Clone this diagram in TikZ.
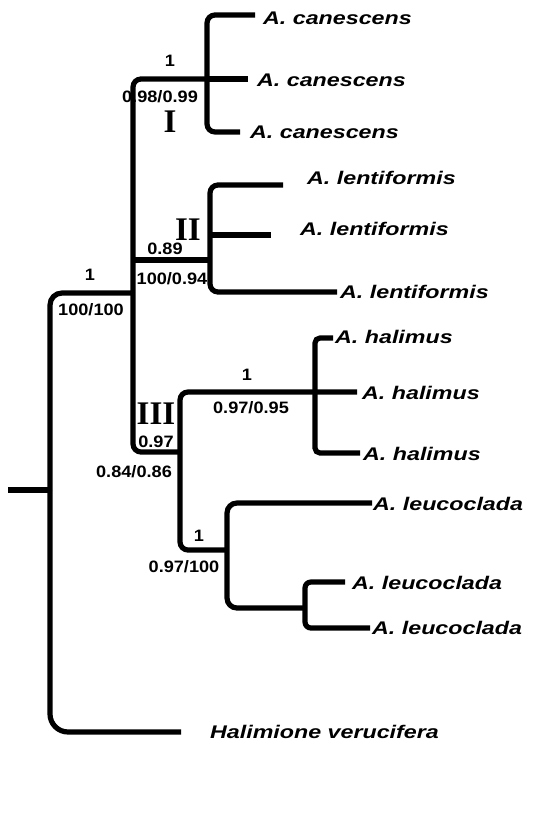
\documentclass[tikz,border=0pt]{standalone}
\usepackage{fontspec}
\setmainfont{Liberation Sans}
\newfontfamily\taxfont[FakeStretch=1.27]{Liberation Sans}
\newfontfamily\numfont[FakeStretch=1.1]{Liberation Sans}
\newfontfamily\romfont{Liberation Serif}
\begin{document}
\begin{tikzpicture}[x=1pt,y=-1pt,
  branch/.style={line width=5.2pt, rounded corners=8pt, line cap=butt},
  tax/.style={font=\taxfont\bfseries\itshape\fontsize{18.3}{20}\selectfont, anchor=base west, inner sep=0pt},
  supp/.style={font=\numfont\bfseries\fontsize{16.5}{18}\selectfont, anchor=base, inner sep=0pt},
  clade/.style={font=\romfont\bfseries\fontsize{33}{35}\selectfont, anchor=base, inner sep=0pt}]
\useasboundingbox[fill=white] (0,0) rectangle (540,829);
% coordinates
\coordinate (root) at (8,490);
\coordinate (r) at (50,490);
\coordinate (nA) at (133,293);
\coordinate (hal) at (181,732);
\coordinate (nI) at (207,79);
\coordinate (nAb) at (133,452);
\coordinate (nIII) at (180,452);
\coordinate (nA2) at (133,260);
\coordinate (nII) at (210,260);
\coordinate (l1) at (255,15);
\coordinate (nIb) at (207,132);
\coordinate (l2) at (248,79);
\coordinate (l3) at (240,132);
\coordinate (l4) at (283,185);
\coordinate (nIIb) at (210,292);
\coordinate (nIIm) at (210,235);
\coordinate (l5) at (271,235);
\coordinate (l6) at (337,292);
\coordinate (l8) at (357,392);
\coordinate (nIIIb) at (180,550);
\coordinate (nL) at (227,550);
\coordinate (l7) at (333,338);
\coordinate (nHb) at (315,453);
\coordinate (l9) at (360,453);
\coordinate (l10) at (372,503);
\coordinate (nLb) at (227,608);
\coordinate (nM) at (305,608);
\coordinate (l11) at (345,582);
\coordinate (nMb) at (305,628);
\coordinate (l12) at (370,628);
% support values (under the branches)
\node[supp] (s1) at (90,280.9) {1};
\node[supp] (s2) at (91,315.9) {100/100};
\node[supp] (s3) at (170,66.9) {1};
\node[supp] (s4) at (160,102.9) {0.98/0.99};
\node[supp] (s5) at (165,254.9) {0.89};
\node[supp] (s6) at (172,284.9) {100/0.94};
\node[supp] (s7) at (156,447.9) {0.97};
\node[supp] (s8) at (134,477.9) {0.84/0.86};
\node[supp] (s9) at (247,380.9) {1};
\node[supp] (s10) at (251,413.9) {0.97/0.95};
\node[supp] (s11) at (199,541.9) {1};
\node[supp] (s12) at (184,572.9) {0.97/100};
% clade numerals
\node[clade] (cI) at (170,132.5) {I};
\node[clade] (cII) at (188,240.9) {II};
\node[clade] (cIII) at (156,424.9) {III};
% branches
\draw[branch] (root) -- (r);
\draw[branch, rounded corners=12pt] (nA) -| (r);
\draw[branch, rounded corners=18pt] (r) |- (hal);
\draw[branch] (nI) -| (nAb) -- (nIII);
\draw[branch] (nA2) -- (nII);
\draw[branch] (l1) -| (nIb) -- (l3);
\draw[branch] (nI) -- (l2);
\draw[branch] (l4) -| (nIIb) -- (l6);
\draw[branch] (nIIm) -- (l5);
\draw[branch] (l8) -| (nIIIb) -- (nL);
\draw[branch, rounded corners=5pt] (l7) -| (nHb) -- (l9);
\draw[branch, rounded corners=10pt] (l10) -| (nLb) -- (nM);
\draw[branch, rounded corners=6pt] (l11) -| (nMb) -- (l12);
% taxa
\node[tax, xshift=8pt, yshift=-9.4pt] (t1) at (l1) {A. canescens};
\node[tax, xshift=9pt, yshift=-7.4pt] (t2) at (l2) {A. canescens};
\node[tax, xshift=10pt, yshift=-6.4pt] (t3) at (l3) {A. canescens};
\node[tax, xshift=24pt, yshift=0.6pt] (t4) at (l4) {A. lentiformis};
\node[tax, xshift=29pt, yshift=-0.9pt] (t5) at (l5) {A. lentiformis};
\node[tax, xshift=3pt, yshift=-6.9pt] (t6) at (l6) {A. lentiformis};
\node[tax, xshift=2pt, yshift=-5.9pt] (t7) at (l7) {A. halimus};
\node[tax, xshift=5pt, yshift=-7.4pt] (t8) at (l8) {A. halimus};
\node[tax, xshift=3pt, yshift=-7.4pt] (t9) at (l9) {A. halimus};
\node[tax, xshift=1pt, yshift=-7.4pt] (t10) at (l10) {A. leucoclada};
\node[tax, xshift=7pt, yshift=-7.4pt] (t11) at (l11) {A. leucoclada};
\node[tax, xshift=2pt, yshift=-6.4pt] (t12) at (l12) {A. leucoclada};
\node[tax, xshift=29pt, yshift=-6.9pt] (t13) at (hal) {Halimione verucifera};
\end{tikzpicture}
\end{document}
